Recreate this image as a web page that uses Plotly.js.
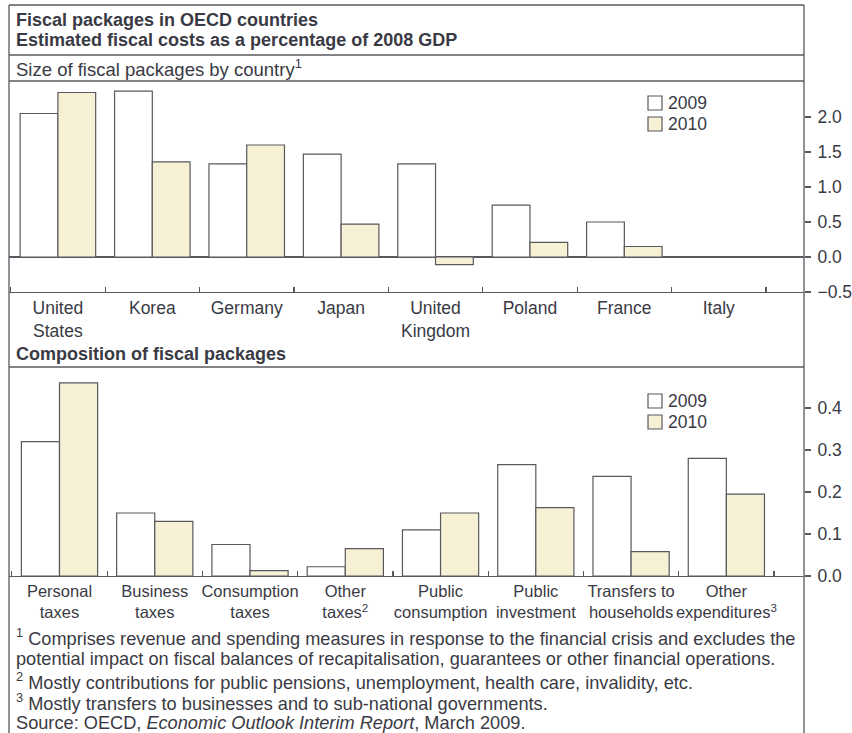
<!DOCTYPE html>
<html><head><meta charset="utf-8">
<script src="https://cdn.plot.ly/plotly-3.0.1.min.js"></script>
<style>html,body{margin:0;padding:0;background:#fff}#chart{width:852px;height:733px}</style>
</head><body><div id="chart"></div>
<script>
// ---- data ----
const countries = ['United<br>States','Korea','Germany','Japan','United<br>Kingdom','Poland','France','Italy'];
const country2009 = [2.05, 2.37, 1.33, 1.47, 1.33, 0.74, 0.50, 0];
const country2010 = [2.35, 1.36, 1.60, 0.47, -0.11, 0.21, 0.15, 0];
const components = ['Personal<br>taxes','Business<br>taxes','Consumption<br>taxes','Other<br>taxes<sup>2</sup>','Public<br>consumption','Public<br>investment','Transfers to<br>households','Other<br>expenditures<sup>3</sup>'];
const comp2009 = [0.32, 0.15, 0.075, 0.022, 0.11, 0.265, 0.237, 0.28];
const comp2010 = [0.46, 0.13, 0.013, 0.065, 0.15, 0.163, 0.058, 0.195];
const seriesNames = ['2009', '2010'];
const topTicks = [-0.5, 0, 0.5, 1.0, 1.5, 2.0];
const bottomTicks = [0, 0.1, 0.2, 0.3, 0.4];
const titleLines = ['Fiscal packages in OECD countries', 'Estimated fiscal costs as a percentage of 2008 GDP'];
const topPanelTitle = 'Size of fiscal packages by country<sup>1</sup>';
const bottomPanelTitle = 'Composition of fiscal packages';
const footnotes = [
  '<sup>1</sup> Comprises revenue and spending measures in response to the financial crisis and excludes the',
  'potential impact on fiscal balances of recapitalisation, guarantees or other financial operations.',
  '<sup>2</sup> Mostly contributions for public pensions, unemployment, health care, invalidity, etc.',
  '<sup>3</sup> Mostly transfers to businesses and to sub-national governments.',
  'Source: OECD, <i>Economic Outlook Interim Report</i>, March 2009.'
];

// ---- styling / geometry ----
const W = 852, H = 733;
const fx = x => x / W, fy = y => 1 - y / H;
const FONT = 'Liberation Sans, Arial, Helvetica, sans-serif';
const TXT = '#3a3a44';
const LINE = '#58585f';
const FILL09 = '#ffffff', FILL10 = '#f6f1d4';
const FS = 17.5;
const FA = 18.2;
const L = 9, R = 804;

function bar(x, y, name, fill, xa, ya) {
  return {type: 'bar', x: x, y: y, name: name, xaxis: xa, yaxis: ya, showlegend: false,
    marker: {color: fill, line: {color: LINE, width: 1.2}}, hoverinfo: 'x+y'};
}
const data = [
  bar(countries, country2009, seriesNames[0], FILL09, 'x', 'y'),
  bar(countries, country2010, seriesNames[1], FILL10, 'x', 'y'),
  bar(components, comp2009, seriesNames[0], FILL09, 'x2', 'y2'),
  bar(components, comp2010, seriesNames[1], FILL10, 'x2', 'y2')
];

const xCommon = {type: 'category', tickson: 'boundaries', ticks: 'inside', ticklen: 5, tickwidth: 1.2,
  tickcolor: LINE, showline: true, linecolor: LINE, linewidth: 1.2, showgrid: false, zeroline: false,
  tickangle: 0, automargin: false,
  tickfont: {family: FONT, size: FS, color: TXT}, fixedrange: true};
const yCommon = {side: 'right', ticks: 'outside', ticklen: 6, tickwidth: 1.2, tickcolor: LINE,
  showline: false, showgrid: false, tickformat: '.1f', ticklabelstandoff: 3, automargin: false,
  tickfont: {family: FONT, size: FS, color: TXT}, fixedrange: true};

const shapes = [];
function hline(y, x0, x1) { shapes.push({type: 'line', xref: 'paper', yref: 'paper', x0: fx(x0), x1: fx(x1), y0: fy(y), y1: fy(y), line: {color: LINE, width: 1.3}}); }
function vline(x, y0, y1) { shapes.push({type: 'line', xref: 'paper', yref: 'paper', x0: fx(x), x1: fx(x), y0: fy(y0), y1: fy(y1), line: {color: LINE, width: 1.3}}); }
hline(5, L, R); hline(55, L, R); hline(81, L, R); hline(367, L, R);
vline(L, 5, 740); vline(R, 5, 740);

const annotations = [];
function txt(t, x, y, bold, size) {
  annotations.push({text: bold ? '<b>' + t + '</b>' : t, xref: 'paper', yref: 'paper', x: fx(x), y: fy(y),
    xanchor: 'left', yanchor: 'middle', showarrow: false,
    font: {family: FONT, size: size || FA, color: TXT}});
}
txt(titleLines[0], 14, 20, true, 18);
txt(titleLines[1], 14, 40, true, 18);
txt(topPanelTitle, 14, 68, false, 18.5);
txt(bottomPanelTitle, 14, 354, true, 18);
const footY = [637, 659, 681, 702, 723];
footnotes.forEach((f, i) => txt(f, 14, footY[i], false, FA));

// custom legends
function legend(rows) {
  rows.forEach((r, i) => {
    shapes.push({type: 'rect', xref: 'paper', yref: 'paper', x0: fx(648), x1: fx(662), y0: fy(r + 7), y1: fy(r - 7),
      fillcolor: i === 0 ? FILL09 : FILL10, line: {color: LINE, width: 1.2}});
    txt(seriesNames[i], 666, r, false, FS);
  });
}
legend([103, 124]);
legend([401, 422]);

const layout = {
  width: W, height: H, margin: {l: 0, r: 0, t: 0, b: 0}, paper_bgcolor: '#fff', plot_bgcolor: 'rgba(0,0,0,0)',
  barmode: 'group', bargap: 0.2, bargroupgap: 0, showlegend: false,
  font: {family: FONT, size: FS, color: TXT},
  xaxis: Object.assign({}, xCommon, {domain: [fx(L), fx(R)], anchor: 'y', range: [-0.518, 7.903]}),
  yaxis: Object.assign({}, yCommon, {domain: [fy(292), fy(81)], anchor: 'x', range: [-0.5, 2.514],
    tickvals: topTicks, zeroline: true, zerolinecolor: LINE, zerolinewidth: 1.2}),
  xaxis2: Object.assign({}, xCommon, {domain: [fx(L), fx(R)], anchor: 'y2', range: [-0.53, 7.815],
    tickfont: {family: FONT, size: 16.5, color: TXT}}),
  yaxis2: Object.assign({}, yCommon, {domain: [fy(576), fy(367)], anchor: 'x2', range: [0, 0.4976],
    tickvals: bottomTicks, zeroline: false}),
  shapes: shapes, annotations: annotations
};
Plotly.newPlot('chart', data, layout, {displayModeBar: false, staticPlot: true});
</script></body></html>
